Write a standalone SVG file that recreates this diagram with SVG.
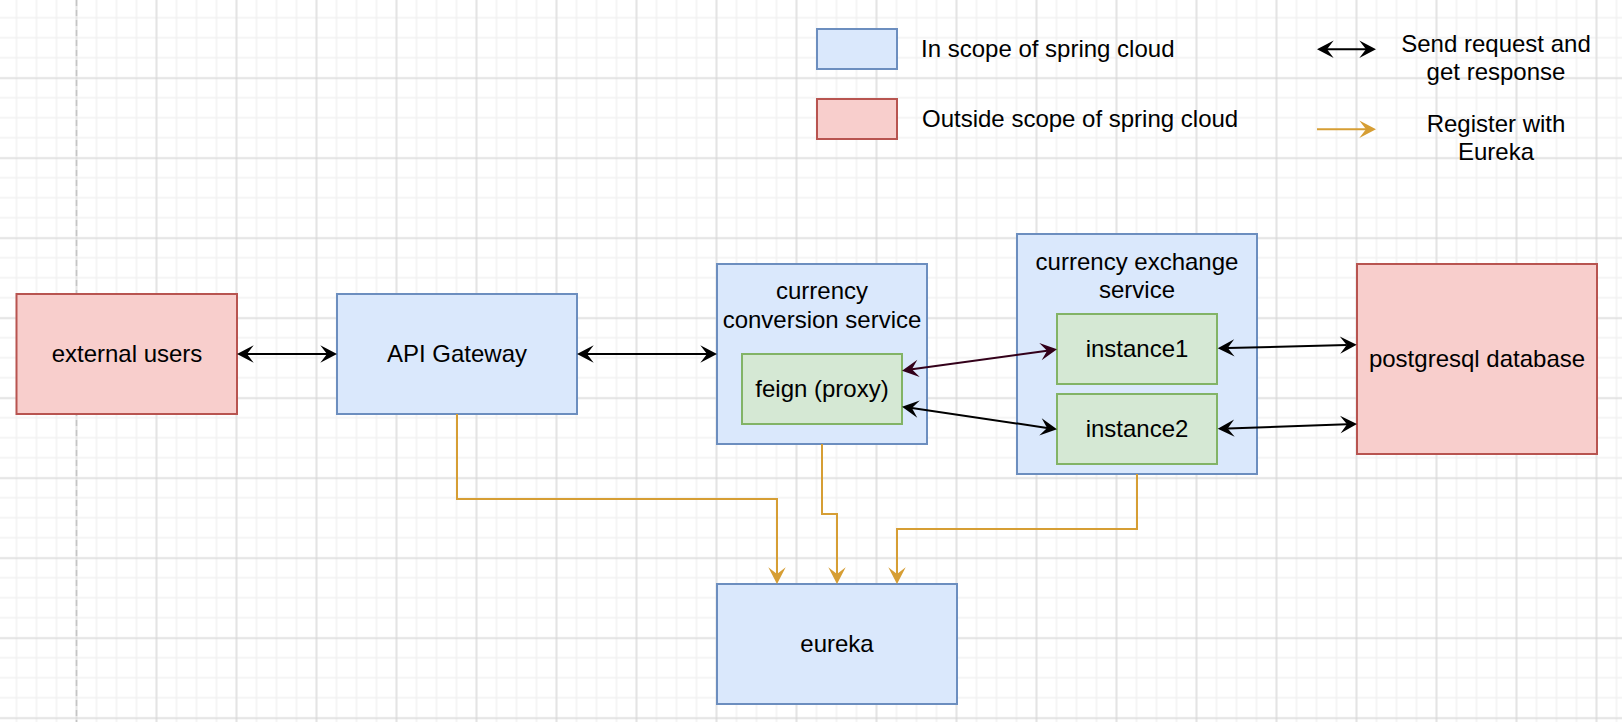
<svg xmlns="http://www.w3.org/2000/svg" width="1622" height="722" viewBox="0 0 1622 722">
<style>
text{font-family:"Liberation Sans",Arial,Helvetica,sans-serif;font-size:24px;fill:#000}
.c{text-anchor:middle}
.blue{fill:#dae8fc;stroke:#6c8ebf;stroke-width:2}
.red{fill:#f8cecc;stroke:#b85450;stroke-width:2}
.green{fill:#d5e8d4;stroke:#82b366;stroke-width:2}
.bi{fill:none;stroke:#000;stroke-width:2;marker-start:url(#ab);marker-end:url(#ab)}
.bm{fill:none;stroke:#33001a;stroke-width:2;marker-start:url(#am);marker-end:url(#am)}
.or{fill:none;stroke:#d69e34;stroke-width:2;marker-end:url(#ao)}
</style>
<defs>
<pattern id="gmin" patternUnits="userSpaceOnUse" width="20" height="20" x="6.5" y="7.7">
<path d="M0 10H20M10 0V20" stroke="#f2f2f2" stroke-width="1.5" fill="none"/>
</pattern>
<pattern id="gmaj" patternUnits="userSpaceOnUse" width="80" height="80" x="36.5" y="38.3">
<path d="M0 40H80M40 0V80" stroke="#d3d3d3" stroke-width="1" fill="none"/>
</pattern>
<marker id="ab" markerUnits="userSpaceOnUse" viewBox="-8 -10 20 20" refX="0" refY="0" markerWidth="20" markerHeight="20" orient="auto-start-reverse" overflow="visible">
<path d="M10 0L-6.7 -8.7L0 0L-6.7 8.7Z" fill="#000"/>
</marker>
<marker id="am" markerUnits="userSpaceOnUse" viewBox="-8 -10 20 20" refX="0" refY="0" markerWidth="20" markerHeight="20" orient="auto-start-reverse" overflow="visible">
<path d="M10 0L-6.7 -8.7L0 0L-6.7 8.7Z" fill="#33001a"/>
</marker>
<marker id="ao" markerUnits="userSpaceOnUse" viewBox="-8 -10 20 20" refX="0" refY="0" markerWidth="20" markerHeight="20" orient="auto" overflow="visible">
<path d="M10 0L-6.7 -8.7L0 0L-6.7 8.7Z" fill="#d69e34"/>
</marker>
</defs>
<g id="background">
<rect width="1622" height="722" fill="#fff"/>
<rect width="1622" height="722" fill="url(#gmin)"/>
<rect width="1622" height="722" fill="url(#gmaj)"/>
<line x1="76.5" y1="0" x2="76.5" y2="722" stroke="#c4c4c4" stroke-width="1.5" stroke-dasharray="6 4"/>
</g>
<g id="legend">
<rect class="blue" x="817" y="29" width="80" height="40"/>
<text x="921" y="57">In scope of spring cloud</text>
<rect class="red" x="817" y="99" width="80" height="40"/>
<text x="922" y="127">Outside scope of spring cloud</text>
<line class="bi" x1="1327" y1="49.3" x2="1366" y2="49.3"/>
<text class="c" x="1496" y="52">Send request and</text>
<text class="c" x="1496" y="80">get response</text>
<line class="or" x1="1317" y1="129.3" x2="1366" y2="129.3"/>
<text class="c" x="1496" y="132">Register with</text>
<text class="c" x="1496" y="160">Eureka</text>
</g>
<g id="external-users">
<rect class="red" x="16.5" y="294" width="220.5" height="120"/>
<text class="c" x="127" y="362">external users</text>
</g>
<g id="api-gateway">
<rect class="blue" x="337" y="294" width="240" height="120"/>
<text class="c" x="457" y="362">API Gateway</text>
</g>
<g id="currency-conversion-service">
<rect class="blue" x="717" y="264" width="210" height="180"/>
<text class="c" x="822" y="299">currency</text>
<text class="c" x="822" y="328">conversion service</text>
</g>
<g id="feign-proxy">
<rect class="green" x="742" y="354" width="160" height="70"/>
<text class="c" x="822" y="397">feign (proxy)</text>
</g>
<g id="currency-exchange-service">
<rect class="blue" x="1017" y="234" width="240" height="240"/>
<text class="c" x="1137" y="270">currency exchange</text>
<text class="c" x="1137" y="298">service</text>
</g>
<g id="instance1">
<rect class="green" x="1057" y="314" width="160" height="70"/>
<text class="c" x="1137" y="357">instance1</text>
</g>
<g id="instance2">
<rect class="green" x="1057" y="394" width="160" height="70"/>
<text class="c" x="1137" y="437">instance2</text>
</g>
<g id="postgresql-database">
<rect class="red" x="1357" y="264" width="240" height="190"/>
<text class="c" x="1477" y="367">postgresql database</text>
</g>
<g id="eureka">
<rect class="blue" x="717" y="584" width="240" height="120"/>
<text class="c" x="837" y="652">eureka</text>
</g>
<g id="connectors">
<line class="bi" x1="247" y1="354" x2="327" y2="354"/>
<line class="bi" x1="587" y1="354" x2="707" y2="354"/>
<line class="bm" x1="911.9" y1="369.3" x2="1047.1" y2="350.7"/>
<line class="bi" x1="911.9" y1="408.1" x2="1047.1" y2="427.9"/>
<line class="bi" x1="1227.7" y1="348" x2="1346.7" y2="345"/>
<line class="bi" x1="1227.7" y1="428.4" x2="1347" y2="424.3"/>
<path class="or" d="M457 414V499H777V574"/>
<path class="or" d="M822 444V514H837V574"/>
<path class="or" d="M1137 474V529H897V574"/>
</g>
</svg>
